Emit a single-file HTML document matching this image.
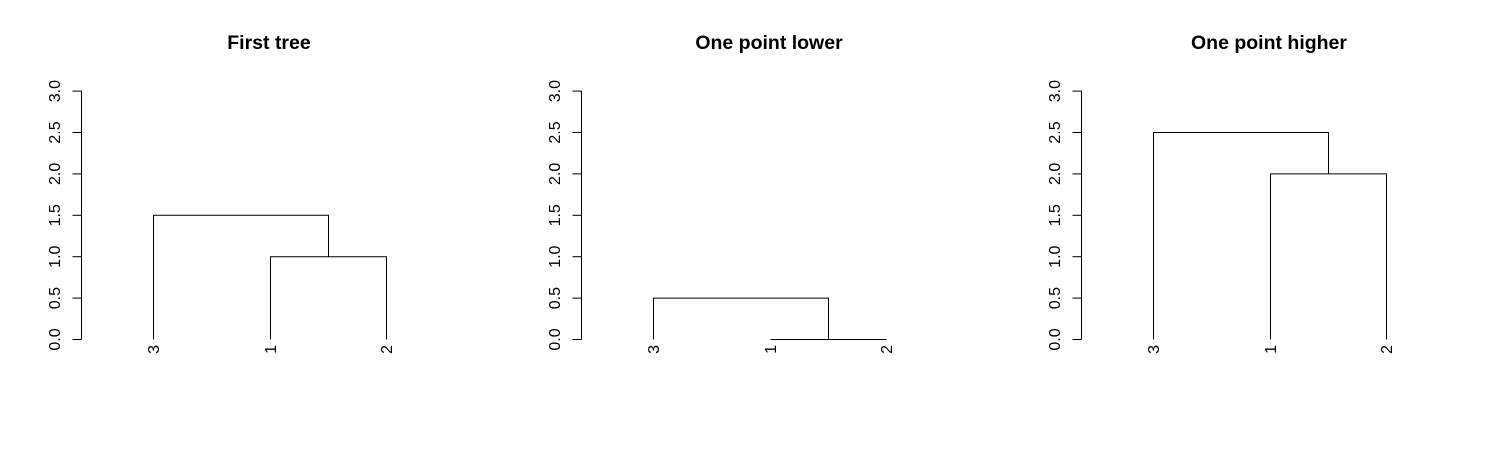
<!DOCTYPE html>
<html><head><meta charset="utf-8"><style>body{margin:0;background:#fff}svg{display:block}</style></head>
<body>
<svg id="c" width="1500" height="450" xmlns="http://www.w3.org/2000/svg" font-family="Liberation Sans, Arial, sans-serif"></svg>
<script>
const titles = ["First tree", "One point lower", "One point higher"];
const leafOrder = ["3", "1", "2"];
const innerHeights = [1.0, 0.0, 2.0];
const rootHeights = [1.5, 0.5, 2.5];
const yTicks = [0, 0.5, 1, 1.5, 2, 2.5, 3];
const yTickLabels = ["0.0", "0.5", "1.0", "1.5", "2.0", "2.5", "3.0"];

const svg = document.getElementById('c');
const NS = 'http://www.w3.org/2000/svg';
function mk(tag, attrs, parent) {
  const e = document.createElementNS(NS, tag);
  for (const k in attrs) e.setAttribute(k, attrs[k]);
  parent.appendChild(e);
  return e;
}
const y0 = 339.5, yPerUnit = 82.8;
function yScale(v) { return y0 - v * yPerUnit; }
const panelX = [0, 500, 1000];
const leafDx = [153, 270, 386];
function xScale(p, i) { return panelX[p] + leafDx[i] + 0.5; }

titles.forEach((t, p) => {
  const g = mk('g', {}, svg);
  
  
  const ti = mk('text', {x: panelX[p] + 269, y: 49, 'text-anchor': 'middle', 'font-size': 19.5, 'font-weight': 'bold'}, g);
  ti.textContent = t;
  
  
  const ax = panelX[p] + 81.5;
  const axis = mk('g', {stroke: '#000', 'stroke-width': 1}, g);
  
  
  mk('line', {x1: ax, x2: ax, y1: yScale(yTicks[0]), y2: yScale(yTicks[yTicks.length - 1])}, axis);
  yTicks.forEach((v, i) => {
    const y = yScale(v);
    mk('line', {x1: ax - 9, x2: ax, y1: y, y2: y}, axis);
    const lb = mk('text', {x: 0, y: 0, 'text-anchor': 'middle', 'font-size': 16, stroke: 'none', fill: '#000',
      transform: `translate(${panelX[p] + 60},${y}) rotate(-90)`}, g);
    lb.textContent = yTickLabels[i];
    
    
  });
  const x3 = xScale(p, 0), x1 = xScale(p, 1), x2 = xScale(p, 2);
  const hi = yScale(innerHeights[p]), hr = yScale(rootHeights[p]);
  const mid = (x1 + x2) / 2;
  const tree = mk('path', {d: `M${x1},${y0}V${hi}H${x2}V${y0}M${x3},${y0}V${hr}H${mid}V${hi}`, fill: 'none', stroke: '#000', 'stroke-width': 1}, g);
  
  
  leafOrder.forEach((l, i) => {
    const lt = mk('text', {x: 0, y: 0, 'text-anchor': 'end', 'font-size': 16,
      transform: `translate(${xScale(p, i) + 5.5},${345}) rotate(-90)`}, g);
    lt.textContent = l;
    
    
  });
});
</script>
</body></html>
